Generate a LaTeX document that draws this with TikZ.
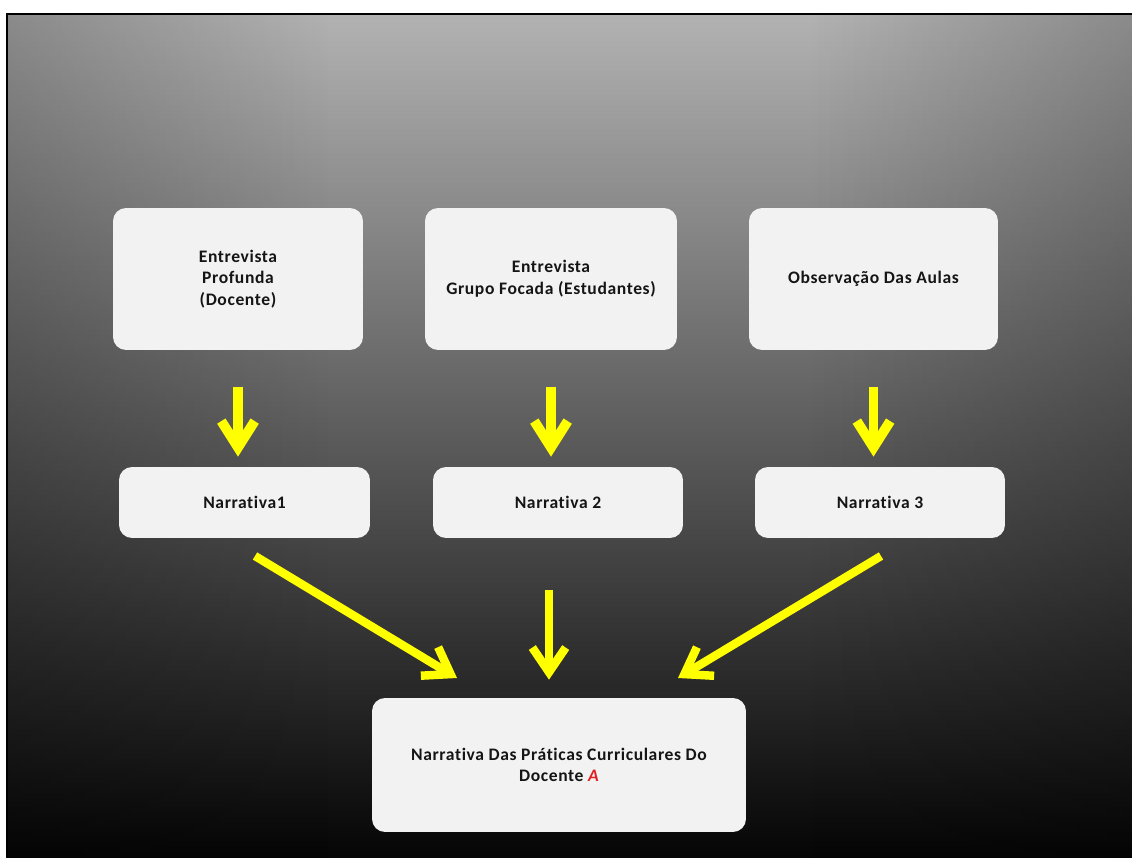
\documentclass[tikz,border=0pt]{standalone}
\usepackage{fontspec}
\setmainfont{Carlito}[LetterSpace=3.5, Ligatures={NoCommon}]
\usetikzlibrary{arrows.meta,fadings}
\definecolor{boxfill}{HTML}{F2F2F2}
\definecolor{txt}{HTML}{151515}
\definecolor{arr}{HTML}{FFFF00}
\definecolor{bgtop}{HTML}{B2B2B2}
\definecolor{bgbot}{HTML}{050505}
\definecolor{redA}{HTML}{E02020}
\begin{document}
\begin{tikzpicture}[x=0.02cm,y=-0.02cm,
  box/.style={fill=boxfill, rounded corners=0.26cm, align=center, text=txt,
    font=\fontsize{10}{12.3}\selectfont\bfseries, inner sep=0pt},
  yarrow/.style={draw=arr, line width=5.6pt,
    -{Straight Barb[length=15pt, width=19pt]}},
  yarrowthin/.style={draw=arr, line width=4.8pt,
    -{Straight Barb[length=14pt, width=19pt]}},
]
\useasboundingbox (0,0) rectangle (1132,858);
\fill[white] (0,0) rectangle (1132,858);
\shade[top color=bgtop, bottom color=bgbot] (7,14) rectangle (1132,858);
\fill[black, opacity=0.22, path fading=east] (7,14) rectangle (330,858);
\fill[black, opacity=0.22, path fading=west] (810,14) rectangle (1132,858);
\draw[black, line width=1.2pt] (7,858) -- (7,14) -- (1132,14);

% top boxes
\node[box, minimum width=5cm, minimum height=2.84cm] (b1) at (238,279)
  {Entrevista\\Profunda\\(Docente)};
\node[box, minimum width=5.04cm, minimum height=2.84cm] (b2) at (551,279)
  {Entrevista\\Grupo Focada (Estudantes)};
\node[box, minimum width=4.98cm, minimum height=2.84cm] (b3) at (873.5,279)
  {Observação Das Aulas};

% narrative boxes
\node[box, minimum width=5.02cm, minimum height=1.42cm] (n1) at (244.5,502.5)
  {Narrativa1};
\node[box, minimum width=5cm, minimum height=1.42cm] (n2) at (558,502.5)
  {Narrativa 2};
\node[box, minimum width=5cm, minimum height=1.42cm] (n3) at (880,502.5)
  {Narrativa 3};

% final box
\node[box, minimum width=7.48cm, minimum height=2.68cm] (fin) at (559,765)
  {Narrativa Das Práticas Curriculares Do\\Docente \textcolor{redA}{\itshape A}};

% top arrows
\draw[yarrow, shorten <=0.74cm, shorten >=0.2cm] (b1.south) -- (b1.south |- n1.north);
\draw[yarrow, shorten <=0.74cm, shorten >=0.2cm] (b2.south) -- (b2.south |- n2.north);
\draw[yarrow, shorten <=0.74cm, shorten >=0.2cm] (b3.south) -- (b3.south |- n3.north);

% bottom arrows
\coordinate (l1) at (255,556);
\coordinate (l2) at (457,678);
\coordinate (r1) at (881,556);
\coordinate (r2) at (678,678);
\draw[yarrowthin] (l1) -- (l2);
\draw[yarrowthin] (r1) -- (r2);
\draw[yarrowthin, shorten <=1.04cm, shorten >=0.36cm] (n2.south -| 549,0) -- (fin.north -| 549,0);
\end{tikzpicture}
\end{document}
